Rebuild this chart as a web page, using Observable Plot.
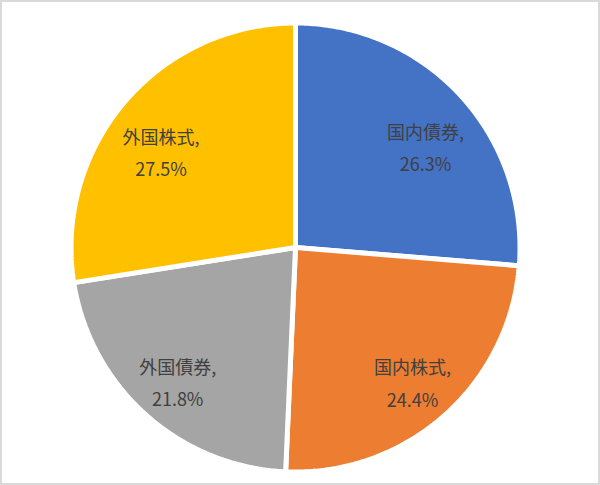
<!DOCTYPE html>
<html><head><meta charset="utf-8">
<script src="https://cdn.jsdelivr.net/npm/d3@7"></script>
<script src="https://cdn.jsdelivr.net/npm/@observablehq/plot@0.6"></script>
<style>
body{margin:0;background:#fff;}
#wrap{position:relative;width:600px;height:485px;overflow:hidden;}
#border{position:absolute;left:0;top:0;width:600px;height:485px;border:2px solid #d9d9d9;box-sizing:border-box;pointer-events:none;}
</style></head><body><div id="wrap"><div id="border"></div></div>
<script>
const categories = ["国内債券", "国内株式", "外国債券", "外国株式"];
const shares = [26.3, 24.4, 21.8, 27.5];
const sliceColors = ["#4472C4", "#ED7D31", "#A5A5A5", "#FFC000"];

const arcs = d3.pie().sort(null).value(d => d)(shares);

// polygon outline of each slice, derived from the pie angles
const slicePoints = [];
arcs.forEach((a, i) => {
  const cat = categories[i];
  slicePoints.push({cat, x: 0, y: 0});
  const n = 150;
  for (let k = 0; k <= n; ++k) {
    const t = a.startAngle + (a.endAngle - a.startAngle) * k / n;
    slicePoints.push({cat, x: Math.sin(t), y: Math.cos(t)});
  }
});

const labelRx = 0.788, labelRy = 0.735;
const labels = arcs.map((a, i) => {
  const m = (a.startAngle + a.endAngle) / 2;
  return {
    x: labelRx * Math.sin(m),
    y: labelRy * Math.cos(m),
    text: `${categories[i]},\n${shares[i].toFixed(1)}%`
  };
});

const R = 224.5;
const chart = Plot.plot({
  width: 600,
  height: 485,
  marginLeft: 295 - R,
  marginRight: 600 - 295 - R,
  marginTop: 247 - R,
  marginBottom: 485 - 247 - R,
  x: {domain: [-1, 1], axis: null},
  y: {domain: [-1, 1], axis: null},
  color: {domain: categories, range: sliceColors},
  style: {fontFamily: "'Noto Sans CJK JP', 'Noto Sans', sans-serif", background: "transparent"},
  marks: [
    Plot.line(slicePoints, {
      x: "x", y: "y", z: "cat", fill: "cat",
      stroke: "white", strokeWidth: 5, strokeLinejoin: "miter",
      curve: "linear-closed"
    }),
    Plot.text(labels, {
      x: "x", y: "y", text: "text", dy: 9,
      fill: "#404040", fontSize: 18, lineHeight: 1.8,
      textAnchor: "middle"
    })
  ]
});
document.getElementById("wrap").appendChild(chart);
</script>
</body></html>
